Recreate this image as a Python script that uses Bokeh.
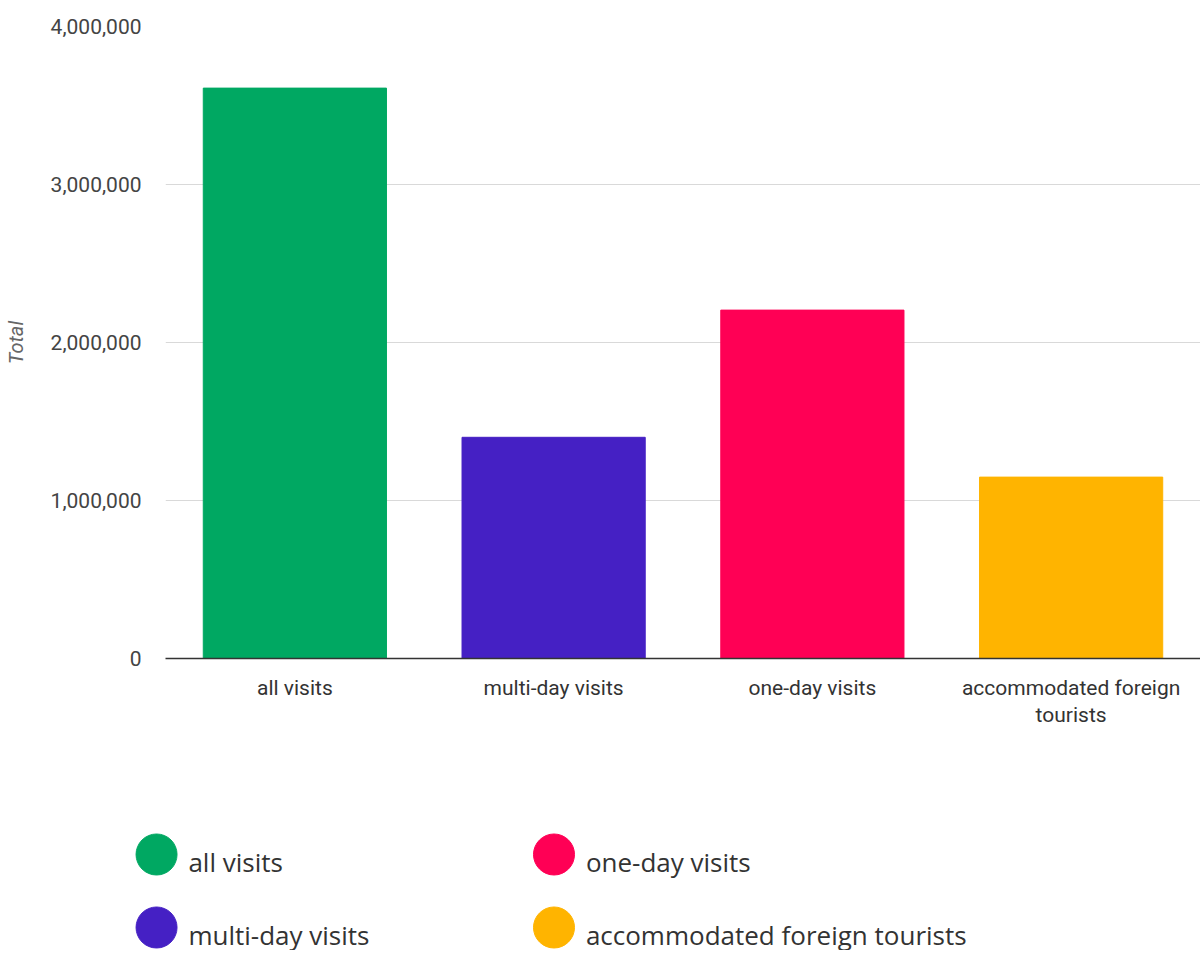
from bokeh.plotting import figure
from bokeh.models import Range1d, NumeralTickFormatter, FixedTicker, ColumnDataSource
from bokeh.core.properties import value
from bokeh.embed import file_html
from bokeh.resources import INLINE

categories = ["all visits", "multi-day visits", "one-day visits", "accommodated foreign tourists"]
tick_labels = ["all visits", "multi-day visits", "one-day visits", "accommodated foreign\ntourists"]
totals = [3610000, 1400000, 2205000, 1148000]
colors = ["#00A862", "#4520C4", "#FF0055", "#FFB400"]
y_ticks = [0, 1000000, 2000000, 3000000, 4000000]

W, H = 1200, 950
FL, FT, FB = 161, 26, 658  # frame edges in page pixels

n = len(categories)
pos = list(range(n))
src = ColumnDataSource(dict(x=pos, total=totals, color=colors))

p = figure(width=W, height=H, x_range=Range1d(-0.5, n - 0.5), y_range=Range1d(0, 4000000),
           output_backend="svg", toolbar_location=None,
           min_border_left=FL, min_border_top=FT, min_border_right=0, min_border_bottom=H - FB)
# pixel-like helper ranges for labels and legend placed outside the frame
p.extra_x_ranges = {"px": Range1d(FL, W)}
p.extra_y_ranges = {"px": Range1d(FB, FT)}

p.vbar(x="x", top="total", width=0.708, color="color", source=src)

p.outline_line_color = None
p.xgrid.grid_line_color = None
p.ygrid.grid_line_color = "#d9d9d9"
p.ygrid.grid_line_width = 1.2

p.yaxis.ticker = FixedTicker(ticks=y_ticks)
p.yaxis.formatter = NumeralTickFormatter(format="0,0")
p.yaxis.axis_line_color = None
p.yaxis.major_tick_line_color = None
p.yaxis.minor_tick_line_color = None
p.yaxis.major_label_standoff = 18
p.yaxis.major_label_text_font = "Roboto"
p.yaxis.major_label_text_font_size = "21px"
p.yaxis.major_label_text_color = "#444444"
p.yaxis.axis_label = "Total"
p.yaxis.axis_label_text_font = "Roboto"
p.yaxis.axis_label_text_font_style = "italic"
p.yaxis.axis_label_text_font_size = "20px"
p.yaxis.axis_label_text_color = "#666666"
p.yaxis.axis_label_standoff = 20

p.xaxis.ticker = FixedTicker(ticks=pos)
p.xaxis.axis_line_color = "#333333"
p.xaxis.axis_line_width = 1.6
p.xaxis.major_tick_line_color = None
p.xaxis.minor_tick_line_color = None
p.xaxis.major_label_overrides = {i: "" for i in pos}

# category labels (multi-line)
lab_src = ColumnDataSource(dict(x=pos, y=[675] * n, text=tick_labels))
p.text(x="x", y="y", text="text", source=lab_src, y_range_name="px", level="overlay",
       text_align="center", text_baseline="top", text_line_height=1.15,
       text_font=value("Roboto"), text_font_size="21px", text_color="#333333")

# legend
lx = [152 + (i // 2) * 399 for i in range(n)]
ly = [854 + (i % 2) * 73 for i in range(n)]
leg_src = ColumnDataSource(dict(x=lx, y=ly, tx=[v + 32 for v in lx], ty=[v + 7 for v in ly],
                                label=categories, color=colors))
p.ellipse(x="x", y="y", width=41, height=41, width_units="screen", height_units="screen",
          fill_color="color", line_color="color", source=leg_src,
          x_range_name="px", y_range_name="px", level="overlay")
p.text(x="tx", y="ty", text="label", source=leg_src, x_range_name="px", y_range_name="px",
       level="overlay", text_baseline="alphabetic", text_align="left",
       text_font=value("Open Sans"), text_font_size="26px", text_color="#333333")

open("out.html", "w").write(file_html(p, INLINE))
